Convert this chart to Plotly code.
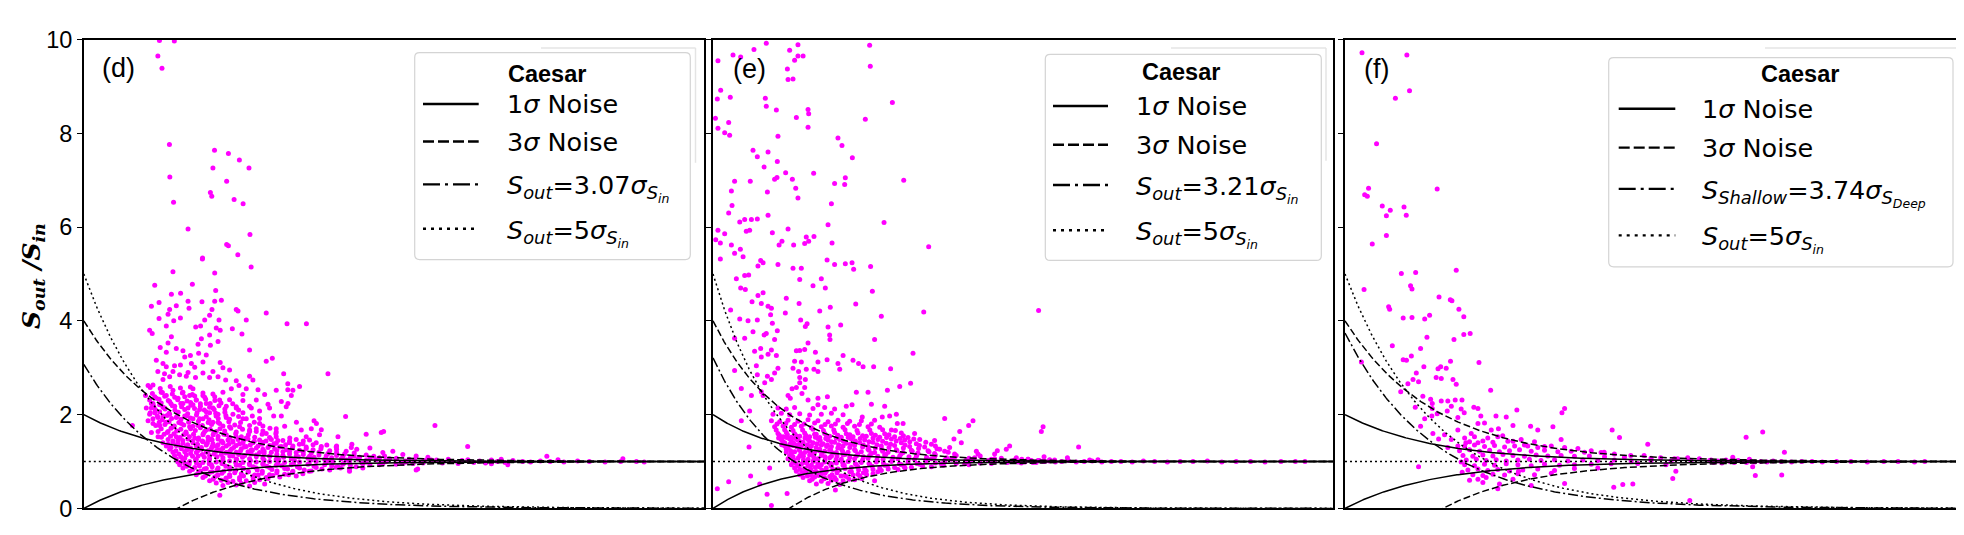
import numpy as np
import plotly.graph_objects as go

# x values are log10(S_in / sigma), y values are S_out / S_in

# ---- panel (d) ----
d_out_x = [.386, .462, .378, .399, .437, .439, .458, .532, .667, .659,
           .738, .794, .843, .729, .646, .653, .767, .813, .848, .729,
           .738, .786, .606, .605, .854, .455, .668, .362, .554, .494,
           .447, .673, .384, .345, .532, .603, .668, .702, .537, .438,
           .472, .778, .787, .654, .931, .430, .493, .459, .384, .642,
           .690, .617, .829, 1.037, 1.136, .421, .336, .349, .571, .596,
           .676, .696, .758, .807, .642, .447, .600, .685, .646, .583,
           .390, .472, .430, .421, .506, .544, .586, .625, .846, .515,
           .370, .404, .421, .463, .493, .549, .608, .696, .710, .744,
           .931, .962, .659, .608, .566, .532, .570, .523, .489, .455,
           .378, .404, .438, .412, .642, .685, .724, .778, .846, .863,
           1.020, 1.246, .328, .353, 1.041, 1.101, 1.067, 1.041, .982, .889,
           .829, .792, .753, .710, .812, .880, .923, 1.059, 1.008, 1.042,
           .940, 1.033, .855, .897, .969, 1.008, .948, 1.175, 1.187, 1.336,
           1.085, 1.025, .982, 1.110, 1.161, 1.212, 1.441, 1.518, 1.530, 1.203,
           1.297, 1.135, 1.051, .982, .897, .812, .761, .778, .727, .693,
           .659, .625, .608, .574, .540, .557, .506, .481, .455, .421,
           .395, .370, .353, .345, .336, .362, .387, .413, .438, .464,
           .506, .532, .557, .591, .642, .685, .727, .379, .404, .438,
           .472, .515, .557, .608, .659, .693, .744, .795, .846, .880,
           .931, .353, .387, .421, .455, .498, .540, .583, .625, .676,
           .727, .778, .829, .345, .379, .430, .472, .523, .566, .608,
           .651, .702, .328, .319, .315, .248, .694, .923, 1.792, 1.959,
           2.363, 2.751, 2.130, 2.420, 2.164, 2.080, 1.704, 1.290, 1.368, 1.393,
           1.460, 1.526, 1.577, 1.628, 1.696, 1.756, 1.297, 1.424, 1.509, 1.594,
           1.680, 1.731, 1.773, 1.356, 1.696]
d_out_y = [9.98, 9.97, 9.65, 9.39, 7.76, 7.07, 6.53, 5.96, 7.64, 7.26,
           7.57, 7.43, 7.26, 6.98, 6.74, 6.66, 6.59, 6.50, 5.84, 5.63,
           5.60, 5.41, 5.34, 5.32, 5.15, 5.05, 5.02, 4.76, 4.78, 4.59,
           4.57, 4.65, 4.39, 4.31, 4.42, 4.41, 4.42, 4.44, 4.27, 4.24,
           4.32, 4.24, 4.21, 4.24, 4.17, 4.14, 4.06, 4.00, 4.05, 4.12,
           4.02, 4.02, 4.02, 3.94, 3.94, 3.89, 3.80, 3.73, 3.87, 3.89,
           3.85, 3.80, 3.83, 3.72, 3.70, 3.66, 3.62, 3.56, 3.48, 3.50,
           3.43, 3.41, 3.53, 3.33, 3.36, 3.26, 3.31, 3.27, 3.38, 3.23,
           3.16, 3.09, 3.02, 3.04, 3.06, 3.09, 3.12, 3.11, 3.00, 2.95,
           3.14, 3.20, 2.92, 2.89, 3.01, 2.90, 2.79, 2.82, 2.85, 2.92,
           2.92, 2.75, 2.81, 2.87, 2.79, 2.81, 2.74, 2.72, 2.82, 2.74,
           2.87, 2.87, 2.62, 2.63, 2.66, 2.60, 2.52, 2.53, 2.52, 2.53,
           2.55, 2.62, 2.55, 2.48, 2.43, 2.31, 2.43, 2.41, 2.28, 2.24,
           2.22, 2.17, 2.14, 2.08, 1.97, 1.97, 2.14, 1.87, 1.81, 1.96,
           1.84, 1.75, 1.70, 1.67, 1.70, 1.68, 1.58, 1.62, 1.64, 1.57,
           1.53, 1.53, 1.50, 1.53, 1.81, 1.91, 2.01, 2.14, 2.18, 2.31,
           2.14, 2.24, 2.41, 2.31, 2.41, 2.55, 2.48, 2.35, 2.52, 2.41,
           2.48, 2.35, 2.24, 2.14, 2.01, 2.04, 2.21, 2.14, 2.28, 2.18,
           2.24, 2.14, 2.21, 2.11, 2.04, 2.01, 1.94, 1.94, 1.97, 2.01,
           1.94, 1.97, 1.91, 1.91, 1.84, 1.81, 1.74, 1.74, 1.67, 1.64,
           1.60, 1.81, 1.77, 1.84, 1.74, 1.81, 1.74, 1.77, 1.67, 1.64,
           1.57, 1.53, 1.50, 1.62, 1.53, 1.64, 1.53, 1.60, 1.50, 1.57,
           1.48, 1.43, 1.87, 2.14, 2.41, 1.77, 0.28, 0.52, 1.77, 1.32,
           1.11, 1.06, 1.05, 1.04, 0.93, 0.95, 0.84, 1.33, 1.37, 1.26,
           1.29, 1.19, 1.22, 1.15, 1.12, 1.09, 0.89, 0.86, 0.93, 0.94,
           0.96, 0.99, 1.02, 0.79, 0.82]
d_core_x = [.339, .390, .441, .493, .544,
            .350, .401, .452, .503, .554, .608, .659,
            .336, .384, .431, .479, .527, .574, .622, .669, .744, .812,
            .357, .404, .452, .499, .547, .595, .642, .690, .778, .846,
            .339, .387, .435, .482, .530, .578, .625, .673, .720, .812,
            .353, .401, .448, .496, .544, .591, .639, .686, .744, .829, .897,
            .367, .414, .462, .510, .557, .605, .652, .710, .770, .846, .914,
            .379, .426, .474, .521, .569, .617, .664, .719, .778, .846, .914, .982,
            .396, .443, .491, .539, .586, .634, .685, .744, .804, .872, .948,
            .430, .481, .532, .583, .634, .685, .736, .787, .838, .897, .957, 1.016, 1.084, 1.152,
            .404, .455, .506, .557, .608, .659, .710, .761, .812, .863, .914, .982, 1.050, 1.118, 1.186,
            .421, .472, .523, .574, .625, .676, .727, .778, .829, .889, .948, 1.008, 1.067, 1.135, 1.212, 1.288, 1.365,
            .438, .498, .549, .600, .651, .702, .753, .804, .855, .914, .974, 1.033, 1.101, 1.170, 1.255, 1.339,
            .455, .515, .574, .625, .676, .727, .778, .838, .897, .957, 1.016, 1.084, 1.161, 1.246, 1.331, 1.441, 1.535,
            .463, .523, .583, .642, .702, .761, .821, .880, .948, 1.016, 1.084, 1.152, 1.237, 1.322, 1.407, 1.509, 1.595,
            .472, .515, .574, .642, .710, .778, .846, .914, .982, 1.059, 1.144, 1.229, 1.314, 1.399, 1.493, 1.595, 1.688, 1.773,
            .480, .540, .608, .676, .744, .812, .880, .948, 1.025, 1.101, 1.186, 1.271, 1.356, 1.441, 1.544, 1.646, 1.731,
            .489, .537, .591, .651, .710, .778, .846, .914, .982, 1.059, 1.144, 1.229, 1.322, 1.424, 1.526, 1.629, 1.731,
            .506, .566, .625, .685, .744, .812, .880, .948, 1.025, 1.101, 1.186, 1.288, 1.390,
            .540, .595, .655, .714, .775, .838, .911, .986, 1.067, 1.161, 1.255, 1.356,
            .574, .625, .685, .744, .804, .872, .948, 1.025, 1.118,
            .608, .668, .727, .795, .863, .931, 1.000, 1.084,
            .642, .702, .761, .829, .897,
            .676, .736, .804, .872,
            .710, .778, .846]
d_core_y = [2.58, 2.56, 2.60, 2.57, 2.59,
            2.45, 2.47, 2.44, 2.46, 2.43, 2.46, 2.44,
            2.31, 2.33, 2.30, 2.32, 2.29, 2.31, 2.33, 2.30, 2.32, 2.30,
            2.18, 2.16, 2.19, 2.17, 2.20, 2.18, 2.16, 2.19, 2.17, 2.18,
            2.04, 2.06, 2.03, 2.05, 2.02, 2.04, 2.06, 2.03, 2.05, 2.04,
            1.91, 1.89, 1.92, 1.90, 1.93, 1.91, 1.89, 1.92, 1.90, 1.91, 1.92,
            1.77, 1.79, 1.76, 1.78, 1.75, 1.77, 1.79, 1.76, 1.78, 1.77, 1.76,
            1.64, 1.62, 1.65, 1.63, 1.66, 1.64, 1.62, 1.65, 1.63, 1.64, 1.65, 1.63,
            1.52, 1.54, 1.51, 1.53, 1.50, 1.52, 1.54, 1.51, 1.53, 1.52, 1.51,
            1.47, 1.46, 1.48, 1.47, 1.45, 1.48, 1.46, 1.47, 1.48, 1.46, 1.47, 1.45, 1.47, 1.46,
            1.40, 1.41, 1.39, 1.40, 1.42, 1.38, 1.40, 1.41, 1.39, 1.40, 1.41, 1.39, 1.40, 1.38, 1.40,
            1.33, 1.34, 1.32, 1.33, 1.35, 1.32, 1.33, 1.34, 1.32, 1.33, 1.34, 1.32, 1.33, 1.31, 1.32, 1.31, 1.30,
            1.26, 1.27, 1.25, 1.26, 1.28, 1.25, 1.26, 1.27, 1.25, 1.26, 1.27, 1.25, 1.24, 1.25, 1.23, 1.22,
            1.20, 1.21, 1.19, 1.20, 1.22, 1.19, 1.20, 1.21, 1.19, 1.20, 1.21, 1.19, 1.18, 1.17, 1.16, 1.14, 1.12,
            1.13, 1.14, 1.12, 1.13, 1.15, 1.12, 1.13, 1.14, 1.12, 1.13, 1.12, 1.11, 1.12, 1.10, 1.09, 1.08, 1.07,
            1.06, 1.07, 1.05, 1.06, 1.08, 1.05, 1.06, 1.07, 1.05, 1.06, 1.07, 1.05, 1.06, 1.05, 1.04, 1.05, 1.04, 1.03,
            .99, 1.00, .98, .99, 1.01, .98, .99, 1.00, .98, .99, 1.00, .99, 1.00, .99, 1.00, .99, 1.00,
            .93, .94, .92, .93, .95, .92, .93, .94, .92, .93, .94, .93, .94, .95, .95, .96, .97,
            .86, .87, .85, .86, .88, .85, .86, .87, .85, .86, .87, .88, .89,
            .79, .80, .78, .79, .81, .78, .79, .80, .79, .80, .82, .84,
            .72, .73, .71, .72, .74, .71, .72, .73, .74,
            .66, .67, .65, .66, .68, .66, .67, .69,
            .59, .60, .58, .59, .61,
            .54, .55, .53, .55,
            .49, .50, .48]
d_fill_x = [.362, .413, .464, .515, .566, .617, .668,
            .345, .395, .445, .495, .545, .595, .645, .700, .760,
            .365, .415, .465, .515, .565, .615, .665, .720, .790,
            .375, .425, .475, .525, .575, .625, .675, .725, .790, .860,
            .385, .435, .485, .535, .585, .635, .685, .740, .800, .870,
            .395, .445, .495, .545, .595, .645, .695, .750, .810, .880, .950,
            .410, .460, .510, .560, .610, .660, .715, .775, .840, .910, .980,
            .455, .505, .555, .605, .655, .705, .760, .815, .870, .930, .990, 1.050, 1.120,
            .430, .480, .530, .580, .630, .685, .740, .795, .850, .910, .970, 1.030, 1.100, 1.170, 1.240,
            .445, .495, .545, .600, .655, .710, .765, .820, .880, .940, 1.000, 1.065, 1.135, 1.210, 1.290,
            .470, .525, .580, .635, .690, .745, .800, .860, .920, .985, 1.050, 1.120, 1.200, 1.290, 1.380,
            .485, .545, .605, .665, .725, .790, .855, .920, .985, 1.050, 1.120, 1.200, 1.290, 1.380, 1.480,
            .495, .555, .615, .680, .745, .810, .880, .950, 1.020, 1.095, 1.175, 1.265, 1.360, 1.460, 1.560, 1.660,
            .505, .570, .640, .710, .780, .850, .920, .995, 1.075, 1.160, 1.250, 1.340, 1.440, 1.540, 1.640, 1.740,
            .515, .575, .640, .705, .775, .845, .915, .990, 1.070, 1.150, 1.235, 1.325, 1.420, 1.520, 1.620, 1.720,
            .525, .590, .655, .725, .795, .865, .935, 1.010, 1.090, 1.175, 1.265, 1.360, 1.460,
            .555, .615, .680, .745, .815, .885, .960, 1.040, 1.125, 1.215, 1.310,
            .585, .645, .705, .770, .840, .910, .985, 1.065, 1.150,
            .620, .680, .745, .815, .890, .965, 1.045,
            .660, .725, .795, .865, .940]
d_fill_y = [2.38, 2.39, 2.37, 2.38, 2.40, 2.37, 2.38,
            2.24, 2.25, 2.23, 2.24, 2.26, 2.23, 2.24, 2.25, 2.23,
            2.11, 2.12, 2.10, 2.11, 2.13, 2.10, 2.11, 2.12, 2.10,
            1.97, 1.98, 1.96, 1.97, 1.99, 1.96, 1.97, 1.98, 1.96, 1.97,
            1.84, 1.85, 1.83, 1.84, 1.86, 1.83, 1.84, 1.85, 1.83, 1.84,
            1.70, 1.71, 1.69, 1.70, 1.72, 1.69, 1.70, 1.71, 1.69, 1.70, 1.71,
            1.58, 1.59, 1.57, 1.58, 1.60, 1.57, 1.58, 1.59, 1.57, 1.58, 1.59,
            1.44, 1.45, 1.43, 1.44, 1.46, 1.43, 1.44, 1.45, 1.43, 1.44, 1.45, 1.43, 1.44,
            1.37, 1.38, 1.36, 1.37, 1.39, 1.36, 1.37, 1.38, 1.36, 1.37, 1.38, 1.36, 1.37, 1.36, 1.35,
            1.30, 1.31, 1.29, 1.30, 1.32, 1.29, 1.30, 1.31, 1.29, 1.30, 1.31, 1.29, 1.28, 1.27, 1.26,
            1.23, 1.24, 1.22, 1.23, 1.25, 1.22, 1.23, 1.24, 1.22, 1.23, 1.22, 1.21, 1.20, 1.19, 1.18,
            1.16, 1.17, 1.15, 1.16, 1.18, 1.15, 1.16, 1.17, 1.15, 1.16, 1.15, 1.14, 1.13, 1.12, 1.11,
            1.10, 1.11, 1.09, 1.10, 1.12, 1.09, 1.10, 1.11, 1.09, 1.10, 1.09, 1.08, 1.08, 1.07, 1.06, 1.05,
            1.03, 1.04, 1.02, 1.03, 1.05, 1.02, 1.03, 1.04, 1.02, 1.03, 1.02, 1.03, 1.02, 1.02, 1.01, 1.02,
            .96, .97, .95, .96, .98, .95, .96, .97, .95, .96, .97, .96, .97, .97, .98, .98,
            .90, .91, .89, .90, .92, .89, .90, .91, .89, .90, .91, .92, .93,
            .83, .84, .82, .83, .85, .82, .83, .84, .82, .84, .86,
            .76, .77, .75, .76, .78, .75, .76, .77, .79,
            .69, .70, .68, .69, .71, .70, .72,
            .62, .63, .61, .62, .64]
d_tail_x = [1.80, 1.83, 1.86, 1.88, 1.91, 1.93, 1.96, 1.99, 2.02, 2.05, 2.08, 2.11, 2.15,
            2.19, 2.24, 2.28, 2.33, 2.38, 2.45, 2.52, 2.58, 2.66, 2.74, 2.82, 2.86]
d_tail_y = [1.03, 0.97, 1.05, 1.00, 0.96, 1.02, 1.04, 0.98, 1.01, 0.97, 1.03, 1.00, 0.98,
            1.02, 1.00, 0.99, 1.01, 1.00, 0.99, 1.01, 1.00, 0.99, 1.00, 1.00, 0.99]

# ---- panel (e) ----
e_top_x = [.333, .531, .479, .510, .531, .563, .465, .469, .500, .979,
           .983, .256, .125, .173, .031, .048, .027, .108, .015, .031,
           .098, .073, .104, .327, .333, .396, .594, .598, .521, .594,
           .406, 1.121, .952, .781, .806, .871, .250, .277, .344, .319,
           .402, .454, .629, .135, .233, .385, .400, .496, .517, 1.192,
           .760, .827, .823, .115, .340, .531, .740, .119, .098, 1.069,
           .167, .198, .240, .208, .229, .277, .344, .371, .469, .583,
           .631, .719, .031, .073, .046, .017, .115, .171, .413, .431,
           .504, .573, .598, .744, .188, .135, .046, 1.348]
e_top_y = [9.92, 9.89, 9.77, 9.56, 9.65, 9.65, 9.37, 9.15, 9.16, 9.88,
           9.43, 9.79, 9.67, 9.63, 9.55, 8.92, 8.73, 8.77, 8.32, 8.11,
           8.23, 8.01, 7.96, 8.75, 8.58, 8.50, 8.51, 8.42, 8.34, 8.13,
           7.94, 8.66, 8.30, 7.90, 7.74, 7.48, 7.64, 7.50, 7.60, 7.28,
           7.40, 7.16, 7.15, 6.98, 6.98, 7.02, 7.06, 7.02, 6.83, 7.00,
           6.93, 7.05, 6.91, 6.77, 6.75, 6.62, 6.50, 6.46, 6.30, 6.10,
           6.11, 6.16, 6.16, 5.91, 5.93, 6.17, 6.25, 5.88, 5.96, 5.79,
           5.80, 6.05, 5.93, 5.86, 5.66, 5.73, 5.62, 5.53, 5.62, 5.70,
           5.62, 5.65, 5.70, 5.66, 5.37, 5.44, 5.32, 5.58]
e_mid_x = [.298, .313, .281, .406, .500, .552, .713, .760, .827, .869,
           .879, .985, .146, .198, .223, .542, .677, .173, .202, .625,
           .702, .996, .313, .281, .244, .302, .344, .365, .458, .538,
           .892, .733, .667, .110, .452, .360, 1.052, 1.317, 2.035, .167,
           .219, .277, .548, .577, .588, .719, .798, .371, .250, .333,
           .402, .319, .729, .731, .135, .198, .385, .594, 1.010, .260,
           .298, .365, .521, .542, .573, .640, .813, 1.250, .302, .344,
           .396, .510, .552, .656, .713, .781, .875, .910, .938, 1.004,
           1.110, .135, .271, .406, .500, .535, .583, .631, .656, .792,
           .385, .340, .277, .542, .577, .542, .365, .323, 1.235, .896,
           .969, 1.090, 1.167, .177, .240, .302, .313, .469, .494, .521,
           .573, .556, .483, .594, .656, .715, .656, .833, .869, .990,
           1.073, 1.104, 1.146, .933, 1.058, 1.152, 1.188, 1.115, 1.448, 1.625,
           1.598, 2.063, 2.052, 1.542, 1.506, 1.552, 1.479, 1.417, 1.854, 1.833,
           1.777, 1.646, 1.656, 1.760, .225, .177, .229, .235, .338, .463,
           .365, .765, 1.010, .354, .292, .027, .098, 2.285, 2.215, 2.104,
           2.069, 1.969, 1.896, 2.354, 2.406]
e_mid_y = [5.29, 5.24, 5.17, 5.20, 5.12, 5.12, 5.30, 5.20, 5.22, 5.24,
           5.10, 5.16, 4.90, 4.97, 4.98, 4.88, 4.90, 4.70, 4.67, 4.75,
           4.70, 4.63, 4.60, 4.54, 4.41, 4.37, 4.31, 4.27, 4.48, 4.37,
           4.36, 4.29, 4.21, 4.23, 4.17, 4.13, 4.10, 4.19, 4.22, 4.04,
           4.00, 4.02, 4.02, 3.88, 3.94, 3.87, 3.91, 3.95, 3.77, 3.73,
           3.79, 3.70, 3.70, 3.60, 3.63, 3.63, 3.60, 3.53, 3.60, 3.35,
           3.41, 3.38, 3.36, 3.37, 3.39, 3.33, 3.26, 3.31, 3.23, 3.29,
           3.26, 3.14, 3.12, 3.12, 3.17, 3.09, 3.16, 3.09, 3.02, 3.02,
           2.98, 2.94, 3.04, 2.99, 2.99, 2.92, 2.97, 2.97, 2.92, 2.97,
           2.89, 2.82, 2.85, 2.79, 2.75, 2.68, 2.75, 2.68, 2.67, 2.48,
           2.48, 2.52, 2.60, 2.56, 2.41, 2.49, 2.41, 2.41, 2.55, 2.58,
           2.58, 2.45, 2.35, 2.31, 2.35, 2.38, 2.21, 2.18, 2.21, 2.22,
           2.18, 1.97, 2.01, 1.95, 1.95, 1.81, 1.81, 1.67, 1.92, 1.87,
           1.77, 1.74, 1.64, 1.64, 1.48, 1.40, 1.30, 1.26, 1.33, 1.26,
           1.23, 1.22, 1.16, 1.16, 1.31, 1.87, 2.08, 0.69, 0.30, 0.32,
           0.06, 0.39, 0.59, 0.86, 0.52, 0.42, 0.57, 1.31, 1.08, 1.04,
           1.10, 1.05, 1.08, 1.03, 1.04]
e_core_x = [.406, .458, .510, .625, .698, .760,
            .375, .427, .479, .542, .604, .677, .740, .813,
            .365, .417, .469, .531, .594, .656, .719, .781, .854, .927, 1.010,
            .385, .438, .490, .552, .615, .677, .740, .813, .885, .969, 1.042,
            .406, .458, .510, .573, .635, .698, .760, .833, .906, .990, 1.073, 1.177, 1.260,
            .438, .490, .542, .604, .667, .729, .802, .875, .958, 1.042, 1.135, 1.219,
            .427, .479, .531, .594, .656, .719, .792, .865, .948, 1.031, 1.115, 1.198, 1.292, 1.385,
            .448, .506, .563, .625, .688, .760, .833, .917, 1.000, 1.083, 1.177, 1.271, 1.365,
            .448, .500, .552, .615, .677, .740, .813, .885, .969, 1.052, 1.135, 1.229, 1.323,
            .458, .542, .604, .667, .729, .802, .885, .969, 1.052, 1.146, 1.240, 1.344, 1.448,
            .458, .510, .573, .635, .698, .771, .844, .927, 1.010, 1.094, 1.188, 1.281, 1.385, 1.510,
            .479, .542, .604, .677, .740, .813, .896, .979, 1.073, 1.167, 1.271, 1.385, 1.510, 1.635, 1.802, 1.969,
            .469, .531, .594, .656, .729, .802, .885, .969, 1.063, 1.156, 1.260, 1.365, 1.490, 1.615, 1.740, 1.885, 2.031, 2.135,
            .500, .563, .625, .698, .771, .844, .927, 1.021, 1.115, 1.219, 1.333, 1.448, 1.594, 1.760, 1.906, 2.073,
            .490, .552, .615, .677, .740, .813, .896, .979, 1.073, 1.177, 1.292, 1.427, 1.573, 1.740, 1.927,
            .510, .573, .640, .708, .781, .865, .948, 1.042, 1.135, 1.240, 1.365,
            .521, .583, .646, .708, .781, .865, .958, 1.052, 1.156,
            .542, .610, .677, .744, .823, .906, 1.000,
            .563, .635, .698, .760, .833, .917,
            .604, .677, .740, .813, .885,
            .646, .719, .792]
e_core_y = [2.14, 2.12, 2.15, 2.13, 2.15, 2.12,
            2.01, 2.03, 2.00, 2.02, 1.99, 2.01, 2.03, 2.00,
            1.87, 1.85, 1.88, 1.86, 1.89, 1.87, 1.85, 1.88, 1.86, 1.87, 1.88,
            1.74, 1.76, 1.73, 1.75, 1.72, 1.74, 1.76, 1.73, 1.75, 1.74, 1.73,
            1.60, 1.62, 1.59, 1.61, 1.58, 1.60, 1.62, 1.59, 1.61, 1.60, 1.59, 1.61, 1.60,
            1.53, 1.52, 1.54, 1.53, 1.51, 1.54, 1.52, 1.53, 1.54, 1.52, 1.53, 1.51,
            1.47, 1.48, 1.46, 1.47, 1.49, 1.46, 1.47, 1.48, 1.46, 1.47, 1.48, 1.46, 1.47, 1.45,
            1.40, 1.39, 1.41, 1.40, 1.38, 1.41, 1.39, 1.40, 1.41, 1.39, 1.40, 1.38, 1.37,
            1.33, 1.34, 1.32, 1.33, 1.35, 1.32, 1.33, 1.34, 1.32, 1.33, 1.34, 1.32, 1.31,
            1.26, 1.25, 1.27, 1.26, 1.24, 1.27, 1.25, 1.26, 1.27, 1.25, 1.24, 1.23, 1.22,
            1.20, 1.21, 1.19, 1.20, 1.22, 1.19, 1.20, 1.21, 1.19, 1.20, 1.19, 1.18, 1.17, 1.16,
            1.13, 1.12, 1.14, 1.13, 1.11, 1.14, 1.12, 1.13, 1.14, 1.12, 1.11, 1.10, 1.09, 1.08, 1.07, 1.05,
            1.06, 1.07, 1.05, 1.06, 1.08, 1.05, 1.06, 1.07, 1.05, 1.06, 1.05, 1.06, 1.05, 1.04, 1.05, 1.03, 1.02, 1.03,
            .99, .98, 1.00, .99, .97, 1.00, .98, .99, 1.00, .98, .99, 1.00, .99, 1.00, .99, 1.00,
            .93, .94, .92, .93, .95, .92, .93, .94, .92, .93, .94, .95, .95, .96, .97,
            .86, .85, .87, .86, .84, .87, .85, .86, .87, .88, .89,
            .79, .80, .78, .79, .81, .78, .80, .81, .83,
            .72, .71, .73, .72, .70, .73, .74,
            .66, .67, .65, .66, .68, .69,
            .59, .58, .60, .59, .61,
            .52, .53, .51]
e_fill_x = [.400, .455, .510, .570, .635, .700, .765, .840, .915, .990,
            .395, .448, .500, .560, .625, .690, .755, .825, .900, .980, 1.060, 1.140,
            .415, .465, .520, .580, .645, .710, .780, .855, .935, 1.015, 1.100, 1.190,
            .410, .460, .515, .575, .640, .705, .770, .845, .920, 1.000, 1.085, 1.170, 1.255,
            .435, .490, .545, .605, .670, .740, .815, .890, .975, 1.060, 1.145, 1.230, 1.330,
            .430, .480, .530, .590, .650, .715, .785, .860, .940, 1.025, 1.110, 1.200, 1.290, 1.390,
            .470, .525, .585, .645, .710, .780, .855, .935, 1.015, 1.100, 1.190, 1.285, 1.400,
            .485, .540, .600, .665, .735, .810, .890, .975, 1.060, 1.150, 1.245, 1.350, 1.470,
            .490, .550, .615, .680, .750, .825, .905, .990, 1.080, 1.175, 1.275, 1.390, 1.520, 1.670,
            .500, .565, .630, .700, .775, .855, .940, 1.030, 1.125, 1.225, 1.335, 1.460, 1.600, 1.760, 1.930,
            .505, .565, .630, .700, .770, .850, .935, 1.025, 1.120, 1.220, 1.330, 1.450, 1.580, 1.720, 1.870, 2.040,
            .520, .585, .655, .730, .810, .890, .975, 1.065, 1.165, 1.275, 1.390, 1.520, 1.670, 1.840, 2.000,
            .530, .595, .665, .740, .820, .905, .995, 1.090, 1.195, 1.310, 1.440, 1.600,
            .545, .610, .680, .750, .825, .910, 1.000, 1.095, 1.200,
            .560, .630, .700, .775, .855, .940, 1.030,
            .590, .660, .730, .800, .875, .960,
            .620, .695, .770, .850, .930]
e_fill_y = [1.80, 1.81, 1.79, 1.80, 1.82, 1.79, 1.80, 1.81, 1.79, 1.80,
            1.67, 1.68, 1.66, 1.67, 1.69, 1.66, 1.67, 1.68, 1.66, 1.67, 1.68, 1.66,
            1.56, 1.57, 1.55, 1.56, 1.58, 1.55, 1.56, 1.57, 1.55, 1.56, 1.57, 1.55,
            1.50, 1.51, 1.49, 1.50, 1.52, 1.49, 1.50, 1.51, 1.49, 1.50, 1.51, 1.49, 1.48,
            1.43, 1.44, 1.42, 1.43, 1.45, 1.42, 1.43, 1.44, 1.42, 1.43, 1.44, 1.42, 1.41,
            1.36, 1.37, 1.35, 1.36, 1.38, 1.35, 1.36, 1.37, 1.35, 1.36, 1.37, 1.35, 1.34, 1.33,
            1.30, 1.31, 1.29, 1.30, 1.32, 1.29, 1.30, 1.31, 1.29, 1.30, 1.29, 1.28, 1.27,
            1.23, 1.24, 1.22, 1.23, 1.25, 1.22, 1.23, 1.24, 1.22, 1.23, 1.22, 1.21, 1.20,
            1.16, 1.17, 1.15, 1.16, 1.18, 1.15, 1.16, 1.17, 1.15, 1.16, 1.15, 1.14, 1.13, 1.12,
            1.10, 1.11, 1.09, 1.10, 1.12, 1.09, 1.10, 1.11, 1.09, 1.10, 1.09, 1.08, 1.07, 1.06, 1.05,
            1.03, 1.04, 1.02, 1.03, 1.05, 1.02, 1.03, 1.04, 1.02, 1.03, 1.02, 1.03, 1.02, 1.02, 1.01, 1.02,
            .96, .97, .95, .96, .98, .95, .96, .97, .95, .96, .97, .96, .97, .98, .98,
            .90, .91, .89, .90, .92, .89, .90, .91, .89, .90, .92, .93,
            .83, .84, .82, .83, .85, .82, .83, .84, .86,
            .76, .77, .75, .76, .78, .76, .78,
            .69, .70, .68, .69, .71, .72,
            .62, .63, .61, .62, .64]
e_tail_x = [1.92, 1.95, 1.99, 2.02, 2.06, 2.10, 2.14, 2.18, 2.22, 2.27, 2.32, 2.37, 2.43, 2.49, 2.55,
            2.62, 2.69, 2.76, 2.84, 2.92, 3.00, 3.09, 3.18, 3.27, 3.36, 3.45, 3.55, 3.64, 3.70]
e_tail_y = [1.01, 0.99, 1.02, 0.98, 1.00, 1.01, 0.99, 1.00, 1.02, 0.99, 1.00, 1.01, 0.99, 1.00, 1.00,
            0.99, 1.01, 1.00, 0.99, 1.00, 1.00, 1.01, 0.99, 1.00, 1.00, 0.99, 1.00, 1.00, 1.00]

# ---- panel (f) ----
f_out_x = [.083, .302, .315, .246, .154, .450, .115, .096, .109, .182,
           .221, .202, .288, .299, .202, .133, .275, .345, .320, .327,
           .543, .093, .459, .514, .522, .213, .218, .231, .080, 1.958,
           2.039, 2.145, 2.003, 2.132,
           .284, .327, .389, .413, .556, .580, .611, .580, .400, .532,
           .369, .324, .284, .300, .385, .467, .454, .494, .515, .654,
           .348, .332, .307, .445, .470, .527, .543, .359, .272, .711,
           .380, .418, .426, .470, .502, .538, .571, .343, .426, .519,
           .567, .629, .649, .839, 1.059, 1.072, .369, .389, .424, .450,
           .499, .551, .582, .663, .737, .787, .820, .681, .649, .749,
           .714, 1.015, .941, .906, 1.304, 1.340, 1.055, 1.478, 1.007, .429,
           .457, .486, .519, .551, .584, .616, .590, .502, .551, .649,
           .697, .746, .795, .860, .892, .941, 1.137, 1.202, 1.265, 1.315,
           1.395, 1.460, 1.541, 1.608, 1.673, 1.730, 1.787, 1.844, .359, .572,
           .608, .649, .673, .689, .746, .754, .820, .847, .909, 1.072,
           1.312, 1.356, 1.405, 1.600, 1.683, 1.615, 1.567, .567, 1.893, 1.974,
           1.990]
f_out_y = [9.72, 9.67, 8.91, 8.75, 7.78, 6.81, 6.83, 6.69, 6.66, 6.45,
           6.36, 6.24, 6.43, 6.25, 5.82, 5.64, 5.01, 5.03, 4.75, 4.68,
           5.08, 4.67, 4.51, 4.45, 4.43, 4.30, 4.25, 3.47, 3.12, 1.52,
           1.63, 1.20, 0.70, 0.71,
           4.06, 4.07, 4.04, 4.12, 4.25, 4.09, 3.73, 3.71, 3.65, 3.60,
           3.41, 3.25, 3.17, 3.16, 3.02, 3.02, 2.98, 2.99, 3.14, 3.11,
           2.89, 2.75, 2.66, 2.79, 2.77, 2.75, 2.65, 2.70, 2.49, 2.52,
           2.39, 2.33, 2.24, 2.29, 2.29, 2.31, 2.31, 2.16, 2.13, 2.18,
           2.12, 2.16, 2.13, 2.10, 2.04, 2.13, 1.75, 1.91, 1.97, 2.02,
           2.08, 1.94, 2.04, 1.97, 1.97, 1.95, 1.77, 1.82, 1.81, 1.70,
           1.67, 1.74, 1.67, 1.75, 1.67, 1.51, 1.47, 1.37, 1.33, 1.60,
           1.48, 1.57, 1.47, 1.67, 1.50, 1.60, 1.40, 1.30, 1.33, 1.40,
           1.50, 1.53, 1.43, 1.47, 1.33, 1.30, 1.28, 1.23, 1.20, 1.16,
           1.13, 1.13, 1.08, 1.06, 1.08, 1.06, 1.03, 1.01, 0.89, 0.77,
           0.60, 0.62, 0.55, 0.66, 0.42, 0.52, 0.62, 0.79, 0.49, 0.53,
           0.45, 0.51, 0.52, 0.64, 0.17, 0.79, 0.93, 0.99, 1.09, 1.05,
           0.89]
f_core_x = [.632, .770,
            .608, .673, .722, .820, .925,
            .584, .632, .681, .730, .779, .828, .876, .974, 1.072,
            .559, .608, .657, .706, .754, .803, .852, .909, .974, 1.039, 1.104, 1.169, 1.250,
            .576, .624, .673, .722, .771, .820, .876, .933, .990, 1.055, 1.120, 1.193, 1.267, 1.364, 1.494, 1.624,
            .592, .641, .689, .738, .787, .844, .900, .957, 1.023, 1.088, 1.161, 1.234, 1.315, 1.397, 1.494, 1.592, 1.689, 1.787,
            .584, .632, .681, .730, .787, .844, .909, .974, 1.047, 1.120, 1.202, 1.299, 1.429,
            .600, .649, .697, .746, .803, .868, .941, 1.023, 1.120, 1.234,
            .624, .673, .722, .779, .844, .925, 1.007]
f_core_y = [1.53, 1.55,
            1.42, 1.44, 1.41, 1.43, 1.42,
            1.33, 1.35, 1.32, 1.34, 1.31, 1.33, 1.35, 1.32, 1.30,
            1.23, 1.25, 1.22, 1.24, 1.21, 1.23, 1.25, 1.22, 1.24, 1.21, 1.22, 1.20, 1.19,
            1.13, 1.11, 1.14, 1.12, 1.15, 1.13, 1.11, 1.14, 1.12, 1.13, 1.11, 1.12, 1.10, 1.09, 1.07, 1.06,
            1.03, 1.05, 1.02, 1.04, 1.01, 1.03, 1.05, 1.02, 1.04, 1.01, 1.03, 1.02, 1.03, 1.01, 1.02, 1.01, 1.02, 1.00,
            .93, .91, .94, .92, .95, .93, .91, .94, .92, .93, .94, .95, .96,
            .82, .84, .81, .83, .80, .82, .84, .81, .85, .86,
            .72, .70, .73, .71, .74, .72, .75]
f_tail_x = [1.78, 1.80, 1.82, 1.84, 1.86, 1.88, 1.90, 1.92, 1.94, 1.96, 1.98, 2.00, 2.03, 2.06,
            2.09, 2.13, 2.18, 2.23, 2.28, 2.33, 2.40, 2.47, 2.55, 2.63, 2.70, 2.78, 2.83]
f_tail_y = [1.02, 0.98, 1.01, 0.97, 1.03, 1.00, 0.98, 1.02, 1.00, 0.98, 1.01, 0.99, 1.00, 0.99,
            1.01, 1.00, 0.99, 1.00, 1.00, 0.99, 1.00, 1.00, 0.99, 1.00, 1.00, 0.99, 1.00]

panel_tags = ['(d)', '(e)', '(f)']
x_max = [3.165, 3.875, 3.03]          # log10(S_in/sigma) span of each panel
dashdot_k = [3.07, 3.21, 3.74]
dashdot_lhs = ['out', 'out', 'Shallow']
dashdot_rhs = ['in', 'in', 'Deep']
dotted_k = 5
noise_k = [1, 3]
y_ticks = [0, 2, 4, 6, 8, 10]

W, H = 1964, 535
MAGENTA = '#ff00ff'


def pxx(v):
    return v / W


def pxy(v):
    return 1 - v / H


def rounded_box(x0, y0, x1, y1, r=5):
    def P(x, y):
        return f'{pxx(x):.5f},{pxy(y):.5f}'
    return (f'M {P(x0 + r, y0)} L {P(x1 - r, y0)} Q {P(x1, y0)} {P(x1, y0 + r)} '
            f'L {P(x1, y1 - r)} Q {P(x1, y1)} {P(x1 - r, y1)} '
            f'L {P(x0 + r, y1)} Q {P(x0, y1)} {P(x0, y1 - r)} '
            f'L {P(x0, y0 + r)} Q {P(x0, y0)} {P(x0 + r, y0)} Z')


scatter = [
    (d_out_x + d_core_x + d_fill_x + d_tail_x, d_out_y + d_core_y + d_fill_y + d_tail_y),
    (e_top_x + e_mid_x + e_core_x + e_fill_x + e_tail_x,
     e_top_y + e_mid_y + e_core_y + e_fill_y + e_tail_y),
    (f_out_x + f_core_x + f_tail_x, f_out_y + f_core_y + f_tail_y),
]
for sx, sy in scatter:
    assert len(sx) == len(sy), (len(sx), len(sy))

x_dom = [(75.8, 696.0), (705.0, 1325.0), (1337.0, 1957.7)]
y_top, y_bot = 19.5, 512.3

DASH = '7px,3px'
DASHDOT = '10px,3px,2px,3px'
DOT = '2px,3px'

fig = go.Figure()
for i, (sx, sy) in enumerate(scatter):
    xr = 'x' if i == 0 else f'x{i + 1}'
    yr = 'y' if i == 0 else f'y{i + 1}'
    fig.add_trace(go.Scatter(x=sx, y=sy, mode='markers', xaxis=xr, yaxis=yr,
                             marker=dict(color=MAGENTA, size=5, line=dict(width=0)),
                             hoverinfo='skip', showlegend=False))
    # model curves S_out/S_in = 1 +- k/SNR and k/SNR
    xs = np.linspace(0, x_max[i], 500)
    inv = 10.0 ** (-xs)
    curves = []
    for k, dash in zip(noise_k, ['solid', DASH]):
        curves.append((1 + k * inv, dash))
        curves.append((1 - k * inv, dash))
    curves.append((dashdot_k[i] * inv, DASHDOT))
    curves.append((dotted_k * inv, DOT))
    curves.append((np.ones_like(xs), DOT))
    for yv, dash in curves:
        fig.add_trace(go.Scatter(x=xs, y=yv, mode='lines', xaxis=xr, yaxis=yr,
                                 line=dict(color='black', width=1.5, dash=dash),
                                 hoverinfo='skip', showlegend=False))

layout = dict(width=W, height=H, margin=dict(l=0, r=0, t=0, b=0),
              paper_bgcolor='white', plot_bgcolor='white', showlegend=False,
              font=dict(family='Liberation Sans', color='black'))
for i in range(3):
    sfx = '' if i == 0 else str(i + 1)
    layout['xaxis' + sfx] = dict(domain=[pxx(x_dom[i][0]), pxx(x_dom[i][1])],
                                 range=[0, x_max[i]], anchor='y' + sfx,
                                 showline=True, mirror=True, linecolor='black', linewidth=1.5,
                                 showgrid=False, zeroline=False, showticklabels=False, ticks='')
    layout['yaxis' + sfx] = dict(domain=[pxy(y_bot), pxy(y_top)], range=[0, 10],
                                 anchor='x' + sfx, tickvals=y_ticks,
                                 showline=True, mirror=True, linecolor='black', linewidth=1.5,
                                 showgrid=False, zeroline=False, ticks='outside', ticklen=5,
                                 tickwidth=1.3, tickcolor='black', showticklabels=(i == 0),
                                 tickfont=dict(family='Liberation Sans', size=23.5, color='black'))
fig.update_layout(**layout)

legend_geom = [
    dict(box=(406.7, 33.3, 682.3, 250.8), title=(539.2, 55.5), line=(415.0, 470.7),
         text=496.7, rows=(87.3, 126.7, 171.7, 218.4)),
    dict(box=(1037.3, 35.0, 1313.3, 251.7), title=(1172.5, 53.5), line=(1045.0, 1100.0),
         text=1126.0, rows=(89.3, 130.0, 172.3, 220.0)),
    dict(box=(1600.7, 38.5, 1945.0, 258.4), title=(1791.7, 56.0), line=(1610.7, 1667.3),
         text=1691.7, rows=(92.2, 133.1, 176.5, 225.3)),
]
ghost_lines = [(533, 28.3, 687.5, 28.3), (687.5, 28.3, 687.5, 149),
               (1163, 28.3, 1318, 28.3), (1318, 28.3, 1318, 147),
               (1757, 28.3, 1950, 28.3), (1950, 28.3, 1950, 150)]
tag_pos = [(110.5, 49.5), (741.0, 50.0), (1368.5, 50.0)]
legend_dash = ['solid', '11px,4px', '17px,5px,3px,5px', '3px,5px']

shapes, annots = [], []
for x0, y0, x1, y1 in ghost_lines:
    shapes.append(dict(type='line', xref='paper', yref='paper', x0=pxx(x0), y0=pxy(y0),
                       x1=pxx(x1), y1=pxy(y1), line=dict(color='#e4e4e4', width=1.5), layer='above'))

for i, g in enumerate(legend_geom):
    bx0, by0, bx1, by1 = g['box']
    shapes.append(dict(type='path', xref='paper', yref='paper', path=rounded_box(bx0, by0, bx1, by1),
                       fillcolor='rgba(255,255,255,0.85)', line=dict(color='#d4d4d4', width=1.2),
                       layer='above'))
    labels = ['1<i>σ</i> Noise', '3<i>σ</i> Noise',
              f'<i>S</i><sub><i>{dashdot_lhs[i]}</i></sub>={dashdot_k[i]:.2f}<i>σ</i>'
              f'<sub><i>S</i><sub><i>{dashdot_rhs[i]}</i></sub></sub>',
              f'<i>S</i><sub><i>out</i></sub>={dotted_k}<i>σ</i><sub><i>S</i><sub><i>in</i></sub></sub>']
    for row_y, lab, dash in zip(g['rows'], labels, legend_dash):
        shapes.append(dict(type='line', xref='paper', yref='paper',
                           x0=pxx(g['line'][0]), x1=pxx(g['line'][1]), y0=pxy(row_y), y1=pxy(row_y),
                           line=dict(color='black', width=2.4, dash=dash), layer='above'))
        shift = -4 if '<sub>' in lab else 0
        annots.append(dict(text=lab, xref='paper', yref='paper', x=pxx(g['text']), y=pxy(row_y),
                           xanchor='left', yanchor='middle', yshift=shift, showarrow=False,
                           font=dict(family='DejaVu Sans', size=25.5, color='black')))
    annots.append(dict(text='<b>Caesar</b>', xref='paper', yref='paper',
                       x=pxx(g['title'][0]), y=pxy(g['title'][1]), xanchor='center', yanchor='middle',
                       showarrow=False, font=dict(family='Liberation Sans', size=23.5, color='black')))
    annots.append(dict(text=panel_tags[i], xref='paper', yref='paper',
                       x=pxx(tag_pos[i][0]), y=pxy(tag_pos[i][1]), xanchor='center', yanchor='middle',
                       showarrow=False, font=dict(family='Liberation Sans', size=27, color='black')))

annots.append(dict(text='<b><i>S<sub>out</sub> /S<sub>in</sub></i></b>', xref='paper', yref='paper',
                   x=pxx(25), y=pxy(268), xanchor='center', yanchor='middle', textangle=-90,
                   showarrow=False, font=dict(family='DejaVu Serif', size=25, color='black')))

fig.update_layout(shapes=shapes, annotations=annots)
fig.write_html('out.html')
